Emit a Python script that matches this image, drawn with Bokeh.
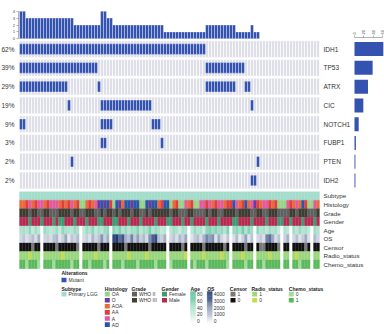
import math
from bokeh.plotting import figure
from bokeh.models import Range1d, LinearAxis, FixedTicker
from bokeh.embed import file_html
from bokeh.resources import INLINE
from bokeh.core.properties import value

# ---------------- data ----------------
N_SAMPLES = 100
genes = ["IDH1", "TP53", "ATRX", "CIC", "NOTCH1", "FUBP1", "PTEN", "IDH2"]
mut_IDH1 = list(range(0, 62))
mut_TP53 = list(range(0, 26)) + list(range(62, 75))
mut_ATRX = list(range(0, 16)) + [26] + list(range(62, 72)) + [75, 76]
mut_CIC = [16] + list(range(27, 44)) + [77]
mut_NOTCH1 = [0, 1, 27, 28, 29, 30, 44, 45, 46]
mut_FUBP1 = [27, 28, 47]
mut_PTEN = [17, 79]
mut_IDH2 = [77, 78]
mutations = [mut_IDH1, mut_TP53, mut_ATRX, mut_CIC, mut_NOTCH1, mut_FUBP1, mut_PTEN, mut_IDH2]

subtype = ["Primary LGG"] * N_SAMPLES
histology = [
    "AOA", "AOA", "AA", "A", "AOA", "AA", "A", "A", "AOA", "AA",
    "A", "A", "A", "AOA", "AA", "AOA", "AA", "A", "AOA", "AA",
    "OA", "OA", "AOA", "AA", "AOA", "A", "O", "AD", "O", "AD",
    "AA", "OA", "AD", "O", "AOA", "AD", "AD", "O", "AD", "AD",
    "OA", "OA", "AD", "O", "AD", "AD", "AOA", "AA", "AD", "AD",
    "OA", "AOA", "AA", "OA", "OA", "A", "AOA", "AA", "OA", "OA",
    "A", "A", "AA", "A", "AOA", "AA", "A", "A", "AOA", "AA",
    "AA", "AD", "A", "AOA", "AA", "AD", "AOA", "A", "O", "AA",
    "AOA", "A", "A", "AA", "AOA", "AA", "OA", "OA", "OA", "A",
    "AA", "AOA", "A", "AOA", "AD", "AA", "OA", "OA", "A", "AOA"]
grade = [
    "III", "III", "III", "II", "III", "III", "II", "II", "III", "III",
    "II", "II", "II", "III", "III", "III", "III", "II", "III", "III",
    "II", "II", "III", "III", "III", "II", "II", "III", "II", "III",
    "III", "II", "III", "II", "III", "III", "III", "II", "III", "III",
    "II", "II", "III", "II", "III", "III", "III", "III", "III", "III",
    "II", "III", "III", "II", "II", "II", "III", "III", "II", "II",
    "II", "II", "III", "II", "III", "III", "II", "II", "III", "III",
    "III", "III", "II", "III", "III", "III", "III", "II", "II", "III",
    "III", "II", "II", "III", "III", "III", "II", "II", "II", "II",
    "III", "III", "II", "III", "III", "III", "II", "II", "II", "III"]
gender = [
    "M", "M", "M", "F", "M", "M", "M", "F", "M", "M",
    "M", "F", "M", "F", "F", "M", "M", "M", "F", "M",
    "M", "M", "F", "M", "M", "M", "F", "F", "M", "M",
    "M", "F", "F", "M", "M", "M", "F", "M", "M", "M",
    "F", "M", "M", "M", "M", "F", "M", "M", "M", "F",
    "F", "M", "M", "M", "F", "M", "M", "F", "M", "M",
    "M", "M", "F", "M", "M", "M", "F", "M", "M", "M",
    "M", "F", "F", "M", "M", "M", "M", "F", "M", "M",
    "M", "M", "F", "M", "M", "M", "F", "F", "M", "M",
    "F", "M", "M", "M", "F", "M", "M", "M", "F", "M"]
age = [
    38, 42, 35, 51, 29, 44, 33, None, 47, 39,
    31, 36, 45, 28, 53, 40, 37, 34, 49, 41,
    None, 32, 46, 38, 55, 30, 43, 36, 48, 52,
    None, 57, 44, 61, 39, 50, 35, 47, 42, 58,
    33, 45, 40, 63, 37, 49, 41, 29, 36, None,
    34, 46, 39, 27, 43, 38, None, 31, 48, 35,
    40, 26, 54, 62, 47, 58, 44, 51, 36, 60,
    None, 49, 55, 42, 66, 38, 57, 45, None, 52,
    35, 41, 30, 46, 37, 43, 28, None, 39, 33,
    None, 44, 32, 48, 36, 40, 31, None, 45, 38]
os_days = [
    820, 1150, 640, 950, 1300, 720, 1580, None, 860, 1020,
    690, 1240, 1450, 560, 980, 1750, 430, 1120, 880, 1330,
    None, 760, 1010, 590, 1460, 830, 1190, 2150, 980, 1620,
    None, 3650, 3920, 2880, 3410, 1580, 1230, 2460, 1090, 1870,
    960, 1380, 720, 2230, 3180, 3550, 1270, 940, 1610, None,
    850, 1190, 660, 1420, 980, 1730, None, 620, 1080, 1350,
    740, 1510, 2380, 1910, 2260, 570, 1640, 830, 480, 1150,
    None, 690, 1330, 420, 960, 1880, 540, 1210, None, 780,
    1050, 630, 2460, 2890, 1740, 710, 1190, None, 940, 1560,
    None, 820, 1280, 590, 1030, 1700, 660, None, 1360, 910]
censor = [
    0, 0, 0, 0, 1, 0, 0, None, 0, 0,
    0, 0, 1, 0, 0, 0, 0, 0, 0, 1,
    None, 0, 0, 0, 0, 0, 1, 0, 0, 0,
    None, 0, 0, 0, 0, 1, 0, 0, 0, 0,
    0, 0, 0, 1, 0, 0, 0, 0, 0, None,
    0, 0, 0, 0, 1, 0, None, 0, 0, 0,
    0, 1, 0, 0, 0, 0, 0, 0, 1, 0,
    None, 0, 0, 0, 0, 1, 0, 0, None, 0,
    1, 1, 0, 0, 0, 0, 1, None, 0, 0,
    None, 0, 0, 0, 0, 1, 0, None, 0, 0]
radio = [
    1, 1, 1, 0, 1, 1, 1, None, 1, 1,
    1, 1, 1, 1, 0, 1, 1, 1, 1, 1,
    None, 1, 1, 1, 1, 0, 1, 1, 1, 1,
    None, 1, 1, 1, 1, 1, 0, 1, 1, 1,
    1, 1, 0, 1, 1, 1, 1, 1, 1, None,
    1, 1, 1, 1, 1, 0, None, 1, 1, 1,
    1, 0, 1, 1, 1, 1, 1, 0, 1, 1,
    None, 1, 1, 1, 0, 1, 1, 1, None, 1,
    1, 1, 1, 0, 1, 1, 1, None, 1, 1,
    None, 1, 0, 1, 1, 1, 1, None, 1, 1]
chemo = [
    1, 1, 0, 1, 1, 1, 0, None, 1, 1,
    1, 0, 1, 1, 1, 1, 1, 0, 1, 1,
    None, 1, 1, 0, 1, 1, 1, 1, 0, 1,
    None, 1, 1, 1, 0, 1, 1, 1, 1, 0,
    1, 1, 1, 1, 1, 0, 1, 1, 1, None,
    0, 1, 1, 1, 1, 1, None, 1, 0, 1,
    1, 1, 0, 1, 1, 1, 1, 1, 1, 0,
    None, 1, 1, 1, 1, 0, 1, 1, None, 1,
    1, 0, 1, 1, 1, 1, 1, None, 1, 1,
    None, 1, 1, 0, 1, 1, 1, None, 1, 1]

track_names = ["Subtype", "Histology", "Grade", "Gender", "Age", "OS", "Censor", "Radio_status", "Chemo_status"]
age_ticks = [80, 60, 40, 20, 0]
os_ticks = [4000, 3000, 2000, 1000, 0]
top_ticks = [0, 1, 2, 3, 4]
right_ticks = [0, 20, 40, 60]

# ---------------- styles ----------------
FONT = "Liberation Sans"
BLUE = "#3452b0"
GRAY = "#dfdfe8"
SUBTYPE_COL = {"Primary LGG": "#a3dccb"}
HIST_COL = {"OA": "#98d487", "O": "#6a3d9a", "AOA": "#e86a3a", "AA": "#e23c3c", "A": "#e05aa0", "AD": "#2a56a8"}
HIST_ORDER = ["OA", "O", "AOA", "AA", "A", "AD"]
GRADE_COL = {"II": "#606060", "III": "#3d3d34"}
GRADE_LAB = {"II": "WHO II", "III": "WHO III"}
GENDER_COL = {"F": "#3c9a74", "M": "#b52a4e"}
GENDER_LAB = {"F": "Female", "M": "Male"}
CENSOR_COL = {1: "#7a7a7a", 0: "#111111"}
RADIO_COL = {1: "#9ad67e", 0: "#c9da4f"}
CHEMO_COL = {0: "#a6dba0", 1: "#5cb85c"}
AGE_HI = "#58c29a"
OS_HI = "#1b3670"


def lerp(c1, c2, t):
    t = max(0.0, min(1.0, t))
    a = [int(c1[i:i + 2], 16) for i in (1, 3, 5)]
    b = [int(c2[i:i + 2], 16) for i in (1, 3, 5)]
    return "#%02x%02x%02x" % tuple(int(round(a[k] + (b[k] - a[k]) * t)) for k in range(3))


def cmap(v, vmax, hi):
    if v is None:
        return "#ffffff"
    return lerp("#ffffff", hi, v / vmax)


def dmap(v, d):
    return "#ffffff" if v is None else d[v]


# ---------------- layout ----------------
W, H = 384, 334
X0, CW = 19.0, 3.0
G0, GP = 48.6, 18.77
A0, AP = 191.2, 8.55
TB_BASE, TB_UNIT = 38.3, 6.9
RB_X0, RB_UNIT = 354.0, 0.465

p = figure(width=W, height=H, output_backend="svg", toolbar_location=None,
           x_range=Range1d(-X0 / CW, (W - X0) / CW), y_range=Range1d(H, 0),
           x_axis_location=None, y_axis_location=None, min_border=0)
p.grid.visible = False
p.outline_line_color = None
p.extra_x_ranges = {"px": Range1d(0, W),
                    "cnt": Range1d(-RB_X0 / RB_UNIT, (W - RB_X0) / RB_UNIT)}
p.extra_y_ranges = {"tb": Range1d(TB_BASE / TB_UNIT - H / TB_UNIT, TB_BASE / TB_UNIT)}

gene_y = [G0 + GP * r for r in range(len(genes))]

# background grid
bx, by = [], []
for r in range(len(genes)):
    for i in range(N_SAMPLES):
        bx.append(i + 0.5)
        by.append(gene_y[r])
p.rect(x=bx, y=by, width=1, height=GP - 2.0, fill_color=GRAY, line_color="white", line_width=0.6)

# mutations
mx, my = [], []
for r, ms in enumerate(mutations):
    for i in ms:
        mx.append(i + 0.5)
        my.append(gene_y[r])
p.rect(x=mx, y=my, width=1, height=10.6, fill_color=BLUE, line_color="white", line_width=0.35)

# top bar: mutations per sample
counts = [0] * N_SAMPLES
for ms in mutations:
    for i in ms:
        counts[i] += 1
tx = [i + 0.5 for i in range(N_SAMPLES) if counts[i] > 0]
tt = [counts[i] for i in range(N_SAMPLES) if counts[i] > 0]
p.vbar(x=tx, width=1, top=tt, bottom=0, y_range_name="tb", fill_color=BLUE, line_color="white", line_width=0.35)
ax_top = LinearAxis(y_range_name="tb", fixed_location=-0.5, bounds=(0, 4),
                    ticker=FixedTicker(ticks=top_ticks), major_label_text_font_size="4px",
                    major_label_text_color="#444444", major_label_text_font=FONT,
                    major_tick_out=2, major_tick_in=0, minor_tick_out=0, minor_tick_in=0,
                    axis_line_width=0.5, major_tick_line_width=0.5, major_label_standoff=1,
                    axis_line_color="#666666", major_tick_line_color="#666666")
p.add_layout(ax_top, "left")

# right bar: mutated samples per gene
gene_counts = [len(ms) for ms in mutations]
p.hbar(y=gene_y, left=0, right=gene_counts, height=14, x_range_name="cnt", fill_color=BLUE, line_color=None)
ax_right = LinearAxis(x_range_name="cnt", fixed_location=37.0, bounds=(0, 60),
                      ticker=FixedTicker(ticks=right_ticks), major_label_text_font_size="4px",
                      major_label_text_color="#444444", major_label_text_font=FONT,
                      major_label_orientation="vertical",
                      major_tick_out=2, major_tick_in=0, minor_tick_out=0, minor_tick_in=0,
                      axis_line_width=0.5, major_tick_line_width=0.5, major_label_standoff=1,
                      axis_line_color="#666666", major_tick_line_color="#666666")
p.add_layout(ax_right, "above")

# percentages and gene names
pcts = ["%d%%" % round(100.0 * c / N_SAMPLES) for c in gene_counts]
p.text(x=[14] * len(genes), y=gene_y, text=pcts, x_range_name="px", text_align="right",
       text_baseline="middle", text_font_size="6.5px", text_font=value(FONT), text_color="#333333")
p.text(x=[323] * len(genes), y=gene_y, text=genes, x_range_name="px", text_align="left",
       text_baseline="middle", text_font_size="6.5px", text_font=value(FONT), text_color="#333333")

# annotation tracks
tracks = [
    [SUBTYPE_COL[v] for v in subtype],
    [HIST_COL[v] for v in histology],
    [GRADE_COL[v] for v in grade],
    [GENDER_COL[v] for v in gender],
    [cmap(v, 80.0, AGE_HI) for v in age],
    [cmap(v, 4000.0, OS_HI) for v in os_days],
    [dmap(v, CENSOR_COL) for v in censor],
    [dmap(v, RADIO_COL) for v in radio],
    [dmap(v, CHEMO_COL) for v in chemo],
]
track_y = [A0 + AP * (t + 0.5) for t in range(len(tracks))]
ax_, ay_, ac_ = [], [], []
for t, cols in enumerate(tracks):
    for i, c in enumerate(cols):
        ax_.append(i + 0.5)
        ay_.append(track_y[t])
        ac_.append(c)
p.rect(x=ax_, y=ay_, width=1, height=AP, fill_color=ac_, line_color=ac_, line_width=0.3)
p.text(x=[323] * len(track_names), y=track_y, text=track_names, x_range_name="px", text_align="left",
       text_baseline="middle", text_font_size="6.2px", text_font=value(FONT), text_color="#333333")

# ---------------- legend ----------------
LFS = "5px"


def ltitle(x, y, s):
    p.text(x=[x], y=[y], text=[s], x_range_name="px", text_align="left", text_baseline="middle",
           text_font_size=LFS, text_font=value(FONT), text_font_style="bold", text_color="#222222")


def lswatches(x, y0, dy, colors, labels):
    ys = [y0 + dy * k for k in range(len(colors))]
    p.rect(x=[x + 2.5] * len(colors), y=ys, width=5, height=4.6, x_range_name="px",
           fill_color=colors, line_color=None)
    p.text(x=[x + 7] * len(labels), y=ys, text=labels, x_range_name="px", text_align="left",
           text_baseline="middle", text_font_size=LFS, text_font=value(FONT), text_color="#333333")


def lgradient(x, ytop, ybot, hi, ticks, vmax):
    n = 30
    hgt = (ybot - ytop) / n
    ys = [ytop + hgt * (k + 0.5) for k in range(n)]
    cols = [lerp("#ffffff", hi, 1.0 - (k + 0.5) / n) for k in range(n)]
    p.rect(x=[x + 2.5] * n, y=ys, width=5, height=hgt, x_range_name="px", fill_color=cols,
           line_color=cols, line_width=0.3)
    lys = [ytop + 2.5 + (ybot - ytop - 5.0) * (1 - v / vmax) for v in ticks]
    p.text(x=[x + 6.5] * len(ticks), y=lys, text=[str(v) for v in ticks], x_range_name="px",
           text_align="left", text_baseline="middle", text_font_size=LFS, text_font=value(FONT),
           text_color="#333333")


LY = 288.3
R0, DR = 293.6, 6.1
ltitle(61, 272, "Alterations")
lswatches(61, 279.5, DR, [BLUE], ["Mutant"])
ltitle(61, LY, "Subtype")
lswatches(61, R0, DR, [SUBTYPE_COL["Primary LGG"]], ["Primary LGG"])
ltitle(104.3, LY, "Histology")
lswatches(104.3, R0, DR, [HIST_COL[h] for h in HIST_ORDER], HIST_ORDER)
ltitle(131, LY, "Grade")
lswatches(131.5, R0, DR, [GRADE_COL["II"], GRADE_COL["III"]], [GRADE_LAB["II"], GRADE_LAB["III"]])
ltitle(161, LY, "Gender")
lswatches(161.5, R0, DR, [GENDER_COL["F"], GENDER_COL["M"]], [GENDER_LAB["F"], GENDER_LAB["M"]])
ltitle(190, LY, "Age")
lgradient(190, 291, 323, AGE_HI, age_ticks, 80.0)
ltitle(206.7, LY, "OS")
lgradient(206.7, 291, 323, OS_HI, os_ticks, 4000.0)
ltitle(229.3, LY, "Censor")
lswatches(230, R0, DR, [CENSOR_COL[1], CENSOR_COL[0]], ["1", "0"])
ltitle(251, LY, "Radio_status")
lswatches(251.7, R0, DR, [RADIO_COL[1], RADIO_COL[0]], ["1", "0"])
ltitle(288.3, LY, "Chemo_status")
lswatches(288.3, R0, DR, [CHEMO_COL[0], CHEMO_COL[1]], ["0", "1"])

open("out.html", "w").write(file_html(p, INLINE))
